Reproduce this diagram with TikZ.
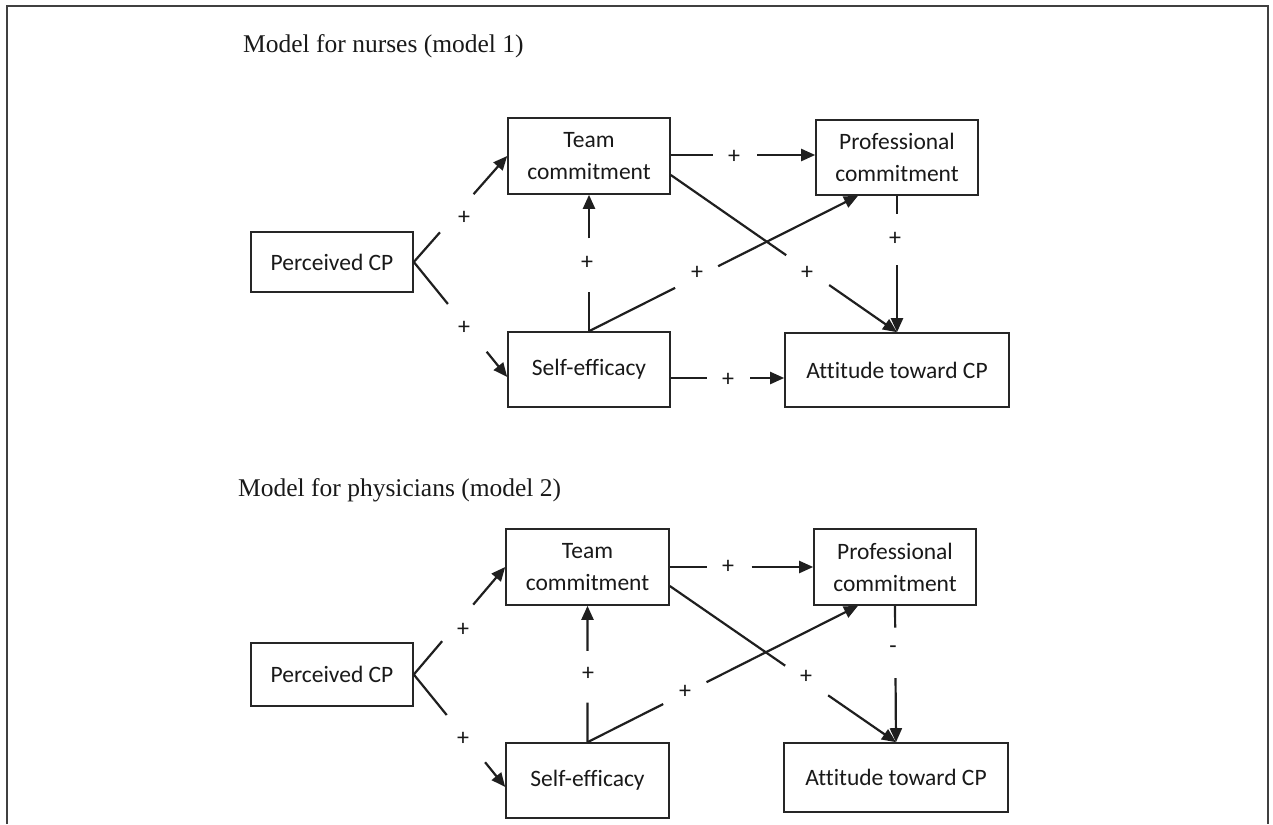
\documentclass[tikz,border=0pt]{standalone}
\usepackage{fontspec}
\setmainfont{Carlito}[Ligatures=NoCommon]
\newfontfamily\titlefont{Liberation Serif}
\usetikzlibrary{arrows.meta,calc}
\tikzset{
 box/.style={draw=black!85, line width=1.6pt, align=center, inner sep=0pt, font=\fontsize{23.5}{32}\selectfont, text=black!90},
 conn/.style={draw=black!88, line width=2.2pt},
 arr/.style={conn, -{Triangle[length=14pt,width=12pt]}},
 sign/.style={font=\fontsize{24}{26}\selectfont, inner sep=0pt, text=black!90},
 title/.style={font=\titlefont\fontsize{25.5}{30}\selectfont, anchor=base west, inner sep=0pt, text=black!90}
}
\newcommand\gapedge[4]{\draw[conn] (#1) -- ($(#1)!#3!(#2)$); \draw[arr] ($(#1)!#4!(#2)$) -- (#2);}
\begin{document}
\begin{tikzpicture}[x=1pt,y=-1pt]
\useasboundingbox (0,0) rectangle (1273,824);
\draw[line width=2.2pt, black!75] (7,824) -- (7,6) -- (1268,6) -- (1268,824);

% ---------- Model 1 ----------
\node[title] (t1) at (243,53) {Model for nurses (model 1)};
\node[box, minimum width=162pt, minimum height=60pt] (pcp1) at (332,262) {Perceived CP};
\node[box, minimum width=162pt, minimum height=76pt] (tc1) at (589,156) {Team\\commitment};
\node[box, minimum width=162pt, minimum height=75pt] (se1) at (589,369.5) {Self-efficacy};
\node[box, minimum width=162pt, minimum height=75pt] (pc1) at (897,157.5) {Professional\\commitment};
\node[box, minimum width=224pt, minimum height=74pt] (att1) at (897,370) {Attitude toward CP};

\coordinate (se1a) at ([yshift=-7.5pt]se1.west);
\coordinate (pc1a) at ([xshift=-39pt]pc1.south);
\coordinate (tc1a) at ([yshift=1pt]tc1.east);
\coordinate (pc1b) at (tc1a -| pc1.west);
\coordinate (tc1b) at ([yshift=-19pt]tc1.east);
\coordinate (se1b) at ([yshift=-8.5pt]se1.east);
\coordinate (att1b) at (se1b -| att1.west);

\gapedge{pcp1.east}{tc1.west}{0.28}{0.64}
\gapedge{pcp1.east}{se1a}{0.365}{0.78}
\gapedge{se1.north}{tc1.south}{0.29}{0.68}
\gapedge{se1.north}{pc1a}{0.32}{0.48}
\gapedge{tc1a}{pc1b}{0.29}{0.60}
\gapedge{tc1b}{att1.north}{0.51}{0.70}
\gapedge{pc1.south}{att1.north}{0.13}{0.51}
\gapedge{se1b}{att1b}{0.32}{0.70}

\node[sign] (s11) at (464,218) {+};
\node[sign] (s12) at (464,328) {+};
\node[sign] (s13) at (587,263) {+};
\node[sign] (s14) at (697,273) {+};
\node[sign] (s15) at (734,157) {+};
\node[sign] (s16) at (807,273) {+};
\node[sign] (s17) at (895,239) {+};
\node[sign] (s18) at (728,380) {+};

% ---------- Model 2 ----------
\node[title] (t2) at (238,496) {Model for physicians (model 2)};
\node[box, minimum width=162pt, minimum height=63pt] (pcp2) at (332,674.5) {Perceived CP};
\node[box, minimum width=163pt, minimum height=76pt] (tc2) at (587.5,567) {Team\\commitment};
\node[box, minimum width=163pt, minimum height=75pt] (se2) at (587.5,780.5) {Self-efficacy};
\node[box, minimum width=162pt, minimum height=76pt] (pc2) at (895,567) {Professional\\commitment};
\node[box, minimum width=224pt, minimum height=69pt] (att2) at (896,777.5) {Attitude toward CP};

\coordinate (se2a) at ([yshift=-6.5pt]se2.west);
\coordinate (pc2a) at ([xshift=-37pt]pc2.south);
\coordinate (pc2b) at (tc2.east -| pc2.west);
\coordinate (tc2b) at ([yshift=-19pt]tc2.east);

\gapedge{pcp2.east}{tc2.west}{0.31}{0.65}
\gapedge{pcp2.east}{se2a}{0.36}{0.78}
\gapedge{se2.north}{tc2.south}{0.29}{0.67}
\gapedge{se2.north}{pc2a}{0.28}{0.44}
\gapedge{tc2.east}{pc2b}{0.26}{0.57}
\gapedge{tc2b}{att2.north}{0.51}{0.70}
\gapedge{pc2.south}{att2.north}{0.16}{0.53}

\node[sign] (s21) at (463,630) {+};
\node[sign] (s22) at (463,739) {+};
\node[sign] (s23) at (588,674) {+};
\node[sign] (s24) at (685,692) {+};
\node[sign] (s25) at (728,567) {+};
\node[sign] (s26) at (806,677) {+};
\node[sign] (s27) at (893,650) {-};
\end{tikzpicture}
\end{document}
